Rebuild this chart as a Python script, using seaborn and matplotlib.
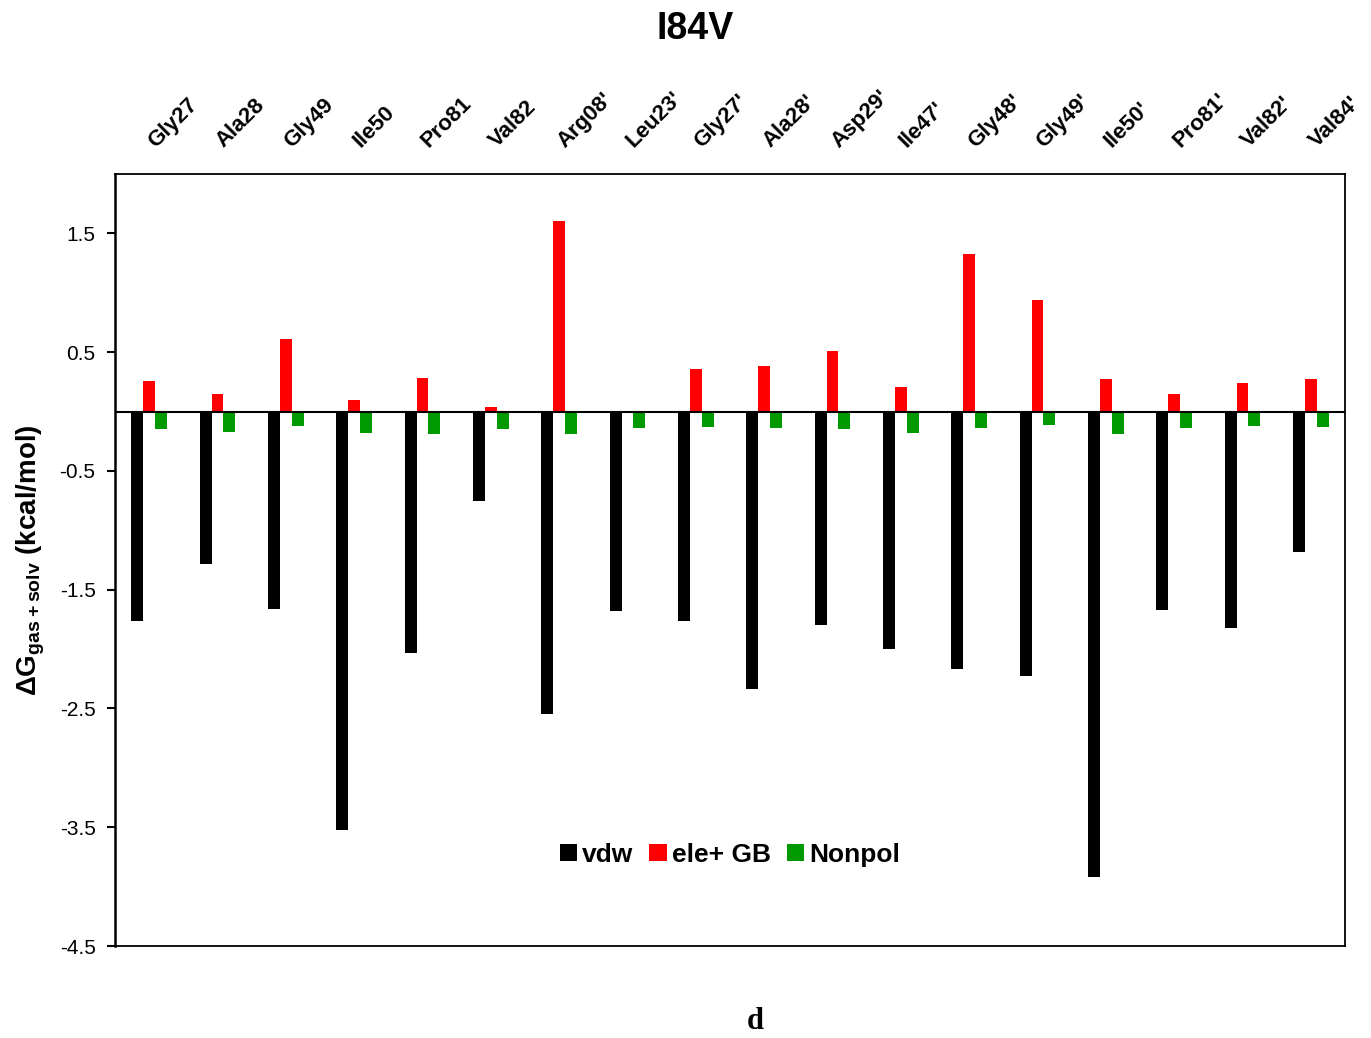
import matplotlib
matplotlib.use("Agg")
import matplotlib.pyplot as plt
import seaborn as sns
import pandas as pd
from matplotlib.patches import Patch
from matplotlib.transforms import ScaledTranslation

residues = ["Gly27", "Ala28", "Gly49", "Ile50", "Pro81", "Val82", "Arg08'", "Leu23'",
            "Gly27'", "Ala28'", "Asp29'", "Ile47'", "Gly48'", "Gly49'", "Ile50'",
            "Pro81'", "Val82'", "Val84'"]
vdw = [-1.76, -1.28, -1.66, -3.52, -2.03, -0.75, -2.55, -1.68, -1.76, -2.34, -1.80,
       -2.00, -2.17, -2.23, -3.92, -1.67, -1.82, -1.18]
ele_gb = [0.26, 0.15, 0.61, 0.10, 0.28, 0.04, 1.60, 0.00, 0.36, 0.38, 0.51, 0.21,
          1.33, 0.94, 0.27, 0.15, 0.24, 0.27]
nonpol = [-0.15, -0.17, -0.12, -0.18, -0.19, -0.15, -0.19, -0.14, -0.13, -0.14, -0.15,
          -0.18, -0.14, -0.11, -0.19, -0.14, -0.12, -0.13]
series_names = ["vdw", "ele+ GB", "Nonpol"]
colors = ["#000000", "#FF0000", "#009900"]
yticks = [1.5, 0.5, -0.5, -1.5, -2.5, -3.5, -4.5]

rows = []
for i, r in enumerate(residues):
    rows.append((r, series_names[0], vdw[i]))
    rows.append((r, series_names[1], ele_gb[i]))
    rows.append((r, series_names[2], nonpol[i]))
df = pd.DataFrame(rows, columns=["residue", "term", "value"])

sns.set_theme(style="white")
plt.rcParams['font.family'] = ['Liberation Sans', 'DejaVu Sans']
plt.rcParams['text.color'] = 'black'
plt.rcParams['axes.labelcolor'] = 'black'
plt.rcParams['xtick.color'] = 'black'
plt.rcParams['ytick.color'] = 'black'
plt.rcParams['mathtext.fontset'] = 'custom'
plt.rcParams['mathtext.rm'] = 'Liberation Sans'
plt.rcParams['mathtext.bf'] = 'Liberation Sans:bold'
plt.rcParams['mathtext.default'] = 'bf'

fig = plt.figure(figsize=(13.71, 10.38), dpi=100)
ax = fig.add_axes([0.0839, 0.0886, 0.8971, 0.7438])

sns.barplot(data=df, x="residue", y="value", hue="term", order=residues,
            hue_order=series_names, palette=colors, width=0.52, gap=0,
            linewidth=0, saturation=1, legend=False, ax=ax, errorbar=None)

ax.set_xlim(-0.5, len(residues) - 0.5)
ax.set_ylim(-4.5, 2.0)
ax.axhline(0, color="black", lw=1.5, zorder=5)

ax.set_yticks(yticks)
ax.set_yticklabels([f"{t:.1f}" for t in yticks], fontsize=15)
ax.tick_params(axis='y', left=True, length=6, width=1.5, color='black', pad=8,
               direction='out', labelcolor='black')

ax.xaxis.tick_top()
ax.tick_params(axis='x', top=False, bottom=False, length=0, pad=16, labelcolor='black')
ax.set_xticks(range(len(residues)))
ax.set_xticklabels(residues, rotation=45, ha='left', va='bottom',
                   rotation_mode='anchor', fontsize=16, fontweight='bold')
offset = ScaledTranslation(7 / 72, 0, fig.dpi_scale_trans)
for lbl in ax.get_xticklabels():
    lbl.set_transform(lbl.get_transform() + offset)
ax.set_xlabel("")
ax.set_ylabel("ΔG$_{gas+solv}$ (kcal/mol)", fontsize=20, fontweight='bold',
              labelpad=9, color='black')

for s in ax.spines.values():
    s.set_visible(True)
    s.set_color('black')
    s.set_linewidth(1.3)
ax.spines['left'].set_linewidth(1.8)

handles = [Patch(facecolor=c, edgecolor='none', label=n) for c, n in zip(colors, series_names)]
ax.legend(handles=handles, loc='center', bbox_to_anchor=(0.5, 0.118), ncol=3,
          frameon=False, handlelength=0.65, handleheight=0.65, handletextpad=0.2,
          columnspacing=0.6, prop={'weight': 'bold', 'size': 19})

fig.text(0.507, 0.972, "I84V", ha='center', va='center', fontsize=27,
         fontweight='bold', color='black')
fig.text(0.551, 0.016, "d", ha='center', va='center', fontsize=22,
         fontweight='bold', family=['Liberation Serif', 'DejaVu Serif'], color='black')

fig.savefig("out.png", dpi=100, facecolor='white')
